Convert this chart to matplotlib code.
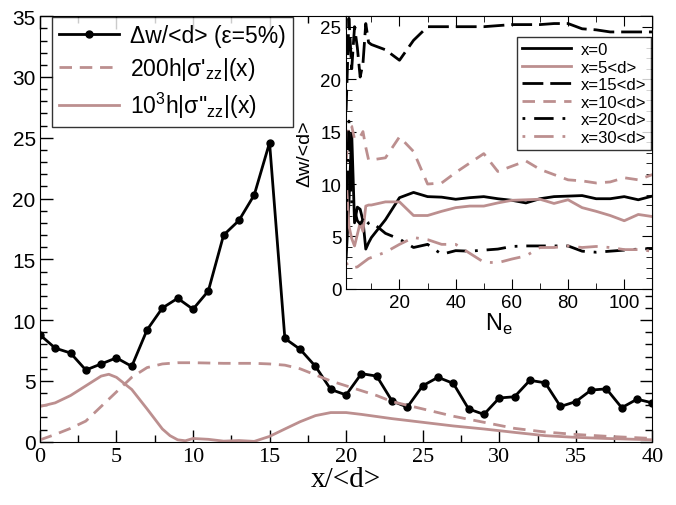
import numpy as np
import matplotlib
matplotlib.use("Agg")
import matplotlib.pyplot as plt
from matplotlib.ticker import MultipleLocator

plt.rcParams['font.family'] = ['Liberation Sans', 'DejaVu Sans']

pink = "#bc8f8f"

# main plot data
xPos = list(range(0, 41))
dwMain = [8.8, 7.7, 7.3, 5.9, 6.4, 6.9, 6.2, 9.2, 11.0, 11.8, 10.9,
          12.4, 17.0, 18.2, 20.3, 24.6, 8.5, 7.6, 6.2, 4.3, 3.85,
          5.6, 5.4, 3.35, 2.85, 4.6, 5.3, 4.8, 2.7, 2.25, 3.6,
          3.7, 5.05, 4.85, 2.9, 3.3, 4.25, 4.35, 2.8, 3.5, 3.2]

xSig1 = [0, 1, 2, 3, 4, 5, 6, 7, 8, 9, 10, 12, 14, 15, 16, 17, 18, 19, 20,
         22, 23, 25, 27, 29, 31, 33, 35, 37, 40]
sig1 = [0.15, 0.6, 1.1, 1.7, 2.9, 4.1, 5.3, 6.1, 6.4, 6.5, 6.5, 6.45, 6.45, 6.4,
        6.3, 6.0, 5.5, 5.0, 4.6, 3.8, 3.3, 2.7, 2.1, 1.6, 1.1, 0.8, 0.6, 0.45, 0.27]

xSig2 = [0, 1, 2, 3, 4, 4.5, 5, 6, 7, 8, 8.5, 9, 9.5, 10, 11, 12, 13, 14, 15,
         16, 17, 18, 19, 20, 21, 23, 25, 27, 29, 31, 33, 35, 37, 40]
sig2 = [2.9, 3.2, 3.8, 4.6, 5.4, 5.55, 5.3, 4.3, 2.7, 1.05, 0.5, 0.16, 0.08, 0.27,
        0.2, 0.05, 0.1, 0.03, 0.44, 1.05, 1.65, 2.15, 2.4, 2.4, 2.25, 1.9, 1.6,
        1.3, 1.05, 0.77, 0.5, 0.36, 0.27, 0.16]

# inset data
nE = [1, 2, 3, 4, 5, 6, 7, 8, 9, 10, 15, 20, 25, 30, 35, 40, 45, 50, 55, 60,
      65, 70, 75, 80, 85, 90, 95, 100, 105, 110]
dw_x0 = [2.9, 8.2, 14.8, 6.3, 7.8, 7.6, 6.5, 3.8, 4.4, 4.9, 6.6, 8.7, 9.2, 8.8,
         8.75, 8.55, 8.7, 8.8, 8.6, 8.45, 8.2, 8.6, 8.8, 8.85, 8.9, 8.6, 8.6,
         8.8, 8.5, 8.85]
dw_x5 = [10.6, 6.0, 4.8, 4.1, 5.2, 6.3, 5.5, 7.9, 8.0, 8.0, 8.3, 8.3, 7.0, 7.0,
         7.4, 7.75, 7.9, 7.9, 8.2, 8.45, 8.5, 8.55, 8.15, 8.5, 7.75, 7.4, 7.0,
         6.5, 7.1, 6.9]
dw_x15 = [17.0, 25.8, 21.0, 25.0, 23.0, 20.2, 21.5, 25.3, 23.5, 23.3, 22.8, 21.8,
          23.7, 25.0, 25.0, 25.0, 25.0, 25.0, 25.1, 25.2, 25.2, 25.2, 25.3, 25.3,
          24.8, 24.7, 24.5, 24.5, 24.5, 24.5]
dw_x10 = [12.0, 15.7, 15.5, 14.3, 14.4, 14.5, 15.0, 13.5, 12.3, 12.3, 12.5, 14.5,
          13.1, 10.0, 10.1, 11.1, 12.0, 12.9, 11.2, 11.7, 12.2, 11.4, 10.9, 10.4,
          10.3, 10.1, 10.2, 10.6, 10.4, 10.9]
dw_x20 = [4.5, 16.0, 8.0, 7.5, 6.5, 6.2, 6.6, 6.0, 6.3, 6.4, 5.3, 4.75, 3.95, 4.25,
          3.3, 3.65, 3.6, 3.7, 3.8, 4.05, 4.1, 4.1, 4.1, 4.1, 3.6, 3.5, 3.6, 3.7,
          3.8, 3.85]
dw_x30 = [2.5, 2.1, 2.0, 2.05, 2.1, 2.3, 2.5, 2.7, 2.9, 3.0, 3.5, 4.25, 4.9, 4.7,
          4.25, 4.25, 3.4, 2.55, 2.5, 2.85, 3.15, 3.95, 3.95, 4.1, 3.95, 4.05,
          3.95, 3.75, 3.75, 3.6]

fig = plt.figure(figsize=(6.76, 5.06), dpi=100)
ax = fig.add_axes([0.059, 0.125, 0.906, 0.841])

ax.plot(xPos, dwMain, color="black", lw=2, marker="o", ms=5,
        label="Δw/<d> (ε=5%)")
ax.plot(xSig1, sig1, color=pink, lw=2, dashes=(4.5, 2.8),
        label=r"200h|σ'$_\mathregular{zz}$|(x)")
ax.plot(xSig2, sig2, color=pink, lw=2,
        label=r"10$^\mathregular{3}$h|σ''$_\mathregular{zz}$|(x)")

ax.set_xlim(0, 40)
ax.set_ylim(0, 35)
ax.xaxis.set_major_locator(MultipleLocator(5))
ax.xaxis.set_minor_locator(MultipleLocator(2.5))
ax.yaxis.set_major_locator(MultipleLocator(5))
ax.yaxis.set_minor_locator(MultipleLocator(1))
ax.tick_params(which="both", direction="in", top=True, right=True)
ax.tick_params(which="major", length=9, width=1)
ax.tick_params(which="minor", length=5, width=1)
ax.tick_params(axis="y", labelsize=15, pad=3)
for lab in ax.get_xticklabels():
    lab.set_family("Liberation Serif")
    lab.set_fontsize(16)
ax.set_xlabel("x/<d>", family="Liberation Serif", fontsize=21, labelpad=0)

leg = ax.legend(loc="upper left", bbox_to_anchor=(0.02, 0.998), fontsize=16.5,
                handlelength=2.6, frameon=True, fancybox=False, edgecolor="black",
                borderaxespad=0, labelspacing=0.35, borderpad=0.3, handletextpad=0.5)
leg.get_frame().set_linewidth(1)

# inset
dashDot = (10.2, (7, 3.2, 1, 3.2))
ins = fig.add_axes([0.512, 0.427, 0.453, 0.539])
ins.plot(nE, dw_x0, color="black", lw=2, label="x=0")
ins.plot(nE, dw_x5, color=pink, lw=2, label="x=5<d>")
ins.plot(nE, dw_x15, color="black", lw=2, dashes=(7.5, 2.5), label="x=15<d>")
ins.plot(nE, dw_x10, color=pink, lw=2, dashes=(4.5, 3), label="x=10<d>")
ins.plot(nE, dw_x20, color="black", lw=2, ls=dashDot, label="x=20<d>")
ins.plot(nE, dw_x30, color=pink, lw=2, ls=dashDot, label="x=30<d>")

ins.set_xlim(1, 110)
ins.set_ylim(0, 26)
ins.xaxis.set_major_locator(MultipleLocator(20))
ins.xaxis.set_minor_locator(MultipleLocator(10))
ins.yaxis.set_major_locator(MultipleLocator(5))
ins.yaxis.set_minor_locator(MultipleLocator(1))
ins.tick_params(which="both", direction="in", top=True, right=True, labelsize=13.5)
ins.tick_params(which="major", length=7)
ins.tick_params(which="minor", length=4)
ins.set_xticks([20, 40, 60, 80, 100])
ins.set_xlabel(r"N$_\mathregular{e}$", fontsize=17, labelpad=0)
ins.set_ylabel("Δw/<d>", fontsize=14, labelpad=5)

leg2 = ins.legend(loc="upper right", bbox_to_anchor=(0.997, 0.923), fontsize=12,
                  handlelength=2.9, frameon=True, fancybox=False, edgecolor="black",
                  borderaxespad=0, labelspacing=0.15, borderpad=0.3, handletextpad=0.6)
leg2.get_frame().set_linewidth(1)

fig.savefig("out.png", dpi=100)
